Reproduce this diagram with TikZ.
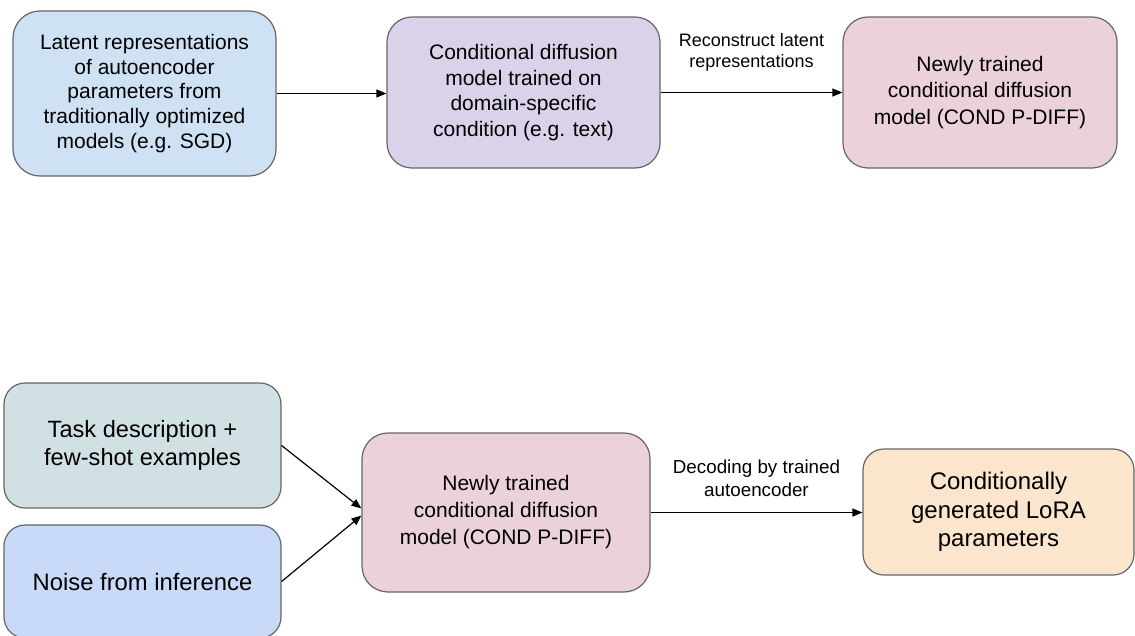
\documentclass[tikz,border=0pt]{standalone}
\usepackage{fontspec}
\setmainfont{Liberation Sans}
\usetikzlibrary{arrows.meta}

\definecolor{bordergray}{HTML}{666666}
\definecolor{fillA}{HTML}{CFE2F3}
\definecolor{fillB}{HTML}{D9D2E9}
\definecolor{fillC}{HTML}{EAD1DC}
\definecolor{fillD}{HTML}{D0E0E3}
\definecolor{fillE}{HTML}{C9DAF8}
\definecolor{fillG}{HTML}{FCE5CD}

\tikzset{
  box/.style={draw=bordergray, line width=1.2pt, align=center, inner sep=0pt,
              text=black},
  arr/.style={line width=1.2pt, -{Triangle[length=10pt,width=8pt]}},
  lbl/.style={align=center, inner sep=0pt, text=black},
}

\begin{document}
\begin{tikzpicture}[x=1pt, y=-1pt]
\useasboundingbox (0,0) rectangle (1135,635);

% --- training stage ---
\node[box, fill=fillA, minimum width=263pt, minimum height=165pt, rounded corners=27pt,
      font=\fontsize{21}{24.6}\selectfont] (A) at (144.5,93.5)
  {Latent representations\\of autoencoder\\parameters from\\traditionally optimized\\models (e.g. SGD)};

\node[box, fill=fillB, minimum width=273pt, minimum height=151pt, rounded corners=25pt,
      font=\fontsize{21}{25.4}\selectfont] (B) at (523.5,92.5)
  {Conditional diffusion\\model trained on\\domain-specific\\condition (e.g. text)};

\node[box, fill=fillC, minimum width=274pt, minimum height=151pt, rounded corners=25pt,
      font=\fontsize{21}{26.5}\selectfont] (C) at (980,92.5)
  {Newly trained\\conditional diffusion\\model (COND P-DIFF)};

\draw[arr] (A.east) -- (A.east -| B.west);
\draw[arr] (B.east) -- (C.west)
  node[lbl, midway, yshift=40pt, font=\fontsize{18}{20.5}\selectfont]
  {Reconstruct latent\\representations};

% --- inference stage ---
\node[box, fill=fillD, minimum width=277pt, minimum height=125pt, rounded corners=21pt,
      font=\fontsize{23.6}{28.3}\selectfont] (D) at (142.5,445.5)
  {Task description +\\few-shot examples};

\node[box, fill=fillE, minimum width=277pt, minimum height=113pt, rounded corners=21pt,
      font=\fontsize{23.8}{28.3}\selectfont] (E) at (142.5,581.5)
  {Noise from inference};

\node[box, fill=fillC, minimum width=288pt, minimum height=159pt, rounded corners=26pt,
      font=\fontsize{21}{27}\selectfont] (F) at (506,512.5)
  {Newly trained\\conditional diffusion\\model (COND P-DIFF)};

\node[box, fill=fillG, minimum width=271pt, minimum height=126pt, rounded corners=21pt,
      font=\fontsize{24}{28.3}\selectfont] (G) at (998.5,512)
  {Conditionally\\generated LoRA\\parameters};

\draw[arr] (D.east) -- ([yshift=4pt]F.west);
\draw[arr] (E.east) -- ([yshift=-3pt]F.west);
\draw[arr] (F.east) -- (F.east -| G.west)
  node[lbl, midway, yshift=34pt, font=\fontsize{18.8}{23}\selectfont]
  {Decoding by trained\\autoencoder};

\end{tikzpicture}
\end{document}
